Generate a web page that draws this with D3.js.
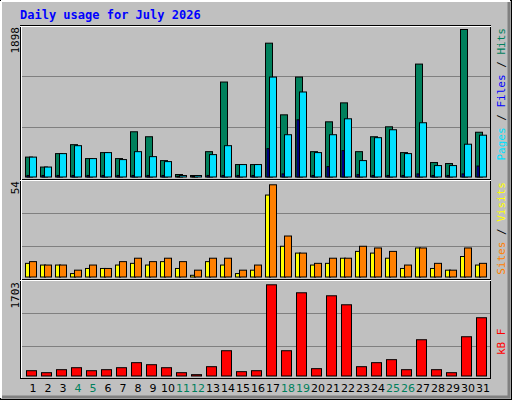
<!DOCTYPE html><html><head><script src="https://cdn.jsdelivr.net/npm/d3@7"></script>
<style>body{margin:0;background:#fff}</style></head><body><svg id="c" width="512" height="400"></svg>
<script>
const days=d3.range(1,32);
const weekend=[4,5,11,12,18,19,25,26];
const hits=[256,128,301,416,237,314,237,582,518,211,32,19,326,1222,160,160,1722,800,1286,326,710,954,326,518,646,314,1453,186,173,1898,576];
const files=[20,20,20,20,20,20,20,20,20,20,10,10,20,20,20,20,365,40,736,20,134,339,30,20,20,20,40,20,20,40,141];
const pages=[256,128,301,403,237,314,224,326,262,198,19,19,288,403,160,160,1286,544,1094,314,544,749,211,506,608,301,698,147,147,422,538];
const sites=[8,7,7,2,5,5,7,8,7,9,5,1,9,7,2,4,48,18,14,7,8,11,15,14,11,5,17,5,4,12,7];
const visits=[9,7,7,4,7,5,9,11,9,11,9,4,11,11,4,7,54,24,14,8,11,11,18,17,15,7,17,8,4,17,8];
const kbytes=[99,62,118,155,99,118,155,249,211,155,62,25,174,472,81,99,1703,472,1554,137,1498,1330,174,249,305,118,677,118,62,733,1088];
const maxTop=1898,maxMid=54,maxBot=1703;
const svg=d3.select('#c');
svg.append('rect').attr('width',512).attr('height',400).attr('fill','#C0C0C0');
svg.append('rect').attr('x',0.5).attr('y',0.5).attr('width',511).attr('height',399).attr('fill','none').attr('stroke','#000');
svg.append('path').attr('d','M1,1H510M1,1V398').attr('stroke','#fff').attr('stroke-width',2);
svg.append('path').attr('d','M509,2V397H2').attr('stroke','#808080').attr('stroke-width',3).attr('fill','none');
svg.append('text').attr('x',20).attr('y',19).text('Daily usage for July 2026').attr('fill','#0000FF')
 .attr('font-family','DejaVu Sans Mono').attr('font-weight','bold').attr('font-size',12);
const x=d3.scaleLinear().domain([1,2]).range([25,40]);
const panels=[{y0:25,y1:179},{y0:179,y1:279},{y0:279,y1:378}];
panels.forEach(p=>{svg.append('rect').attr('x',20.5).attr('y',p.y0+0.5).attr('width',470).attr('height',p.y1-p.y0).attr('fill','#C0C0C0').attr('stroke','#000');});
[25,179,279].forEach(y=>svg.append('line').attr('x1',20).attr('x2',491).attr('y1',y+1.5).attr('y2',y+1.5).attr('stroke','#fff'));
svg.append('line').attr('x1',21.5).attr('x2',21.5).attr('y1',26).attr('y2',378).attr('stroke','#fff');
[76.5,127.5,213.5,246.5,313.5,346.5].forEach(y=>svg.append('line').attr('x1',22).attr('x2',490).attr('y1',y).attr('y2',y).attr('stroke','#808080'));
const yT=d3.scaleLinear().domain([0,maxTop]).range([176.5,29]);
const yM=d3.scaleLinear().domain([0,maxMid]).range([276.5,184.3]);
const yB=d3.scaleLinear().domain([0,maxBot]).range([375.5,284.3]);
function bars(data,y,off,w,fill){
 svg.append('g').selectAll('rect').data(data).join('rect')
  .attr('x',(d,i)=>x(days[i])+off+0.5).attr('y',d=>y(d)+0.5).attr('width',w)
  .attr('height',d=>Math.max(0,y(0)-y(d))).attr('fill',fill).attr('stroke','#000');
}
bars(hits,yT,0,7,'#00805C');
bars(files,yT,1.5,2,'#0000FF');
bars(pages,yT,4,7,'#00E0FF');
bars(sites,yM,0,5,'#FFFF00');
bars(visits,yM,4,7,'#FF8000');
bars(kbytes,yB,1,10,'#FF0000');
svg.append('g').selectAll('text').data(days).join('text')
 .attr('x',d=>x(d)+8).attr('y',392).attr('text-anchor','middle').text(d=>d)
 .attr('font-family','DejaVu Sans').attr('font-size',11).attr('fill',d=>weekend.includes(d)?'#00805C':'#000');
function vlab(xp,yp,parts,anchor){
 const t=svg.append('text').attr('transform',`translate(${xp},${yp}) rotate(-90)`).attr('text-anchor',anchor)
  .attr('font-family','DejaVu Sans Mono').attr('font-size',11);
 parts.forEach(([s,c])=>t.append('tspan').text(s).attr('fill',c));
}
vlab(19,27,[[String(maxTop),'#000']],'end');
vlab(19,181,[[String(maxMid),'#000']],'end');
vlab(19,282,[[String(maxBot),'#000']],'end');
vlab(505,28,[['Pages','#00E0FF'],[' / ','#000'],['Files','#0000FF'],[' / ','#000'],['Hits','#00805C']],'end');
vlab(505,182,[['Sites','#FF8000'],[' / ','#000'],['Visits','#FFFF00']],'end');
vlab(505,355,[['kB F','#FF0000']],'start');
</script></body></html>
